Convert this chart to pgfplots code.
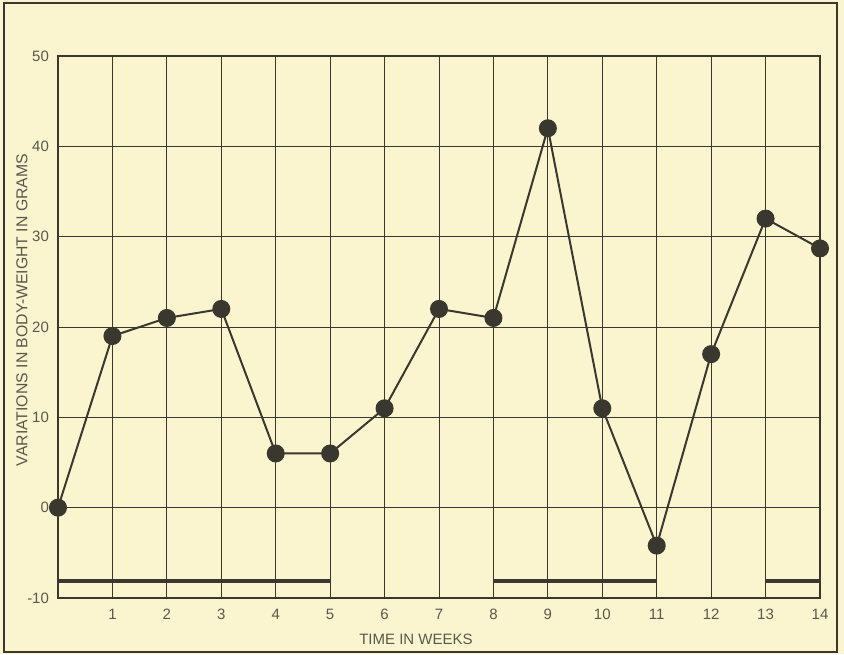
\documentclass[border=0pt]{standalone}
\usepackage{pgfplots}
\pgfplotsset{compat=1.18}
\usepackage{fontspec}
\setmainfont{Liberation Sans}
\definecolor{paper}{HTML}{FBF5CF}
\definecolor{ink}{HTML}{3A382E}
\definecolor{txt}{HTML}{5A584C}
\begin{document}
\begin{tikzpicture}
\fill[paper] (-29pt,-28pt) rectangle (393pt,299pt);
\draw[ink, line width=1pt] (-27pt,-27pt) rectangle (389.5pt,297.5pt);
\begin{axis}[
  at={(0,0)}, anchor=south west,
  scale only axis, width=381pt, height=271pt,
  xmin=0, xmax=14, ymin=-10, ymax=50,
  xtick={1,...,14}, ytick={-10,0,...,50},
  yticklabels={-10,0,10,20,30,40,50},
  grid=major,
  major grid style={ink, line width=0.5pt},
  axis line style={ink, line width=0.6pt},
  major tick length=0pt,
  tick label style={font=\fontsize{7.5}{9}\selectfont, text=txt},
  /pgf/number format/assume math mode=true,
  xticklabel style={yshift=-2pt},
  yticklabel style={xshift=-1pt},
  xlabel={TIME IN WEEKS},
  ylabel={VARIATIONS IN BODY-WEIGHT IN GRAMS},
  xlabel style={font=\fontsize{7.5}{9}\selectfont, text=txt, yshift=-0.5pt, xshift=-11.5pt},
  ylabel style={font=\fontsize{7.9}{9}\selectfont, text=txt, yshift=-7pt, xshift=8.5pt},
  clip=false,
]
\addplot[ink, line width=1pt, mark=*, mark size=4pt, mark options={fill=ink, draw=ink}]
coordinates {(0,0) (1,19) (2,21) (3,22) (4,6) (5,6) (6,11) (7,22) (8,21) (9,42) (10,11) (11,-4.2) (12,17) (13,32) (14,28.7)};
\addplot[ink, line width=2pt, no marks] coordinates {(0,-8.1) (5,-8.1)};
\addplot[ink, line width=2pt, no marks] coordinates {(8,-8.1) (11,-8.1)};
\addplot[ink, line width=2pt, no marks] coordinates {(13,-8.1) (14,-8.1)};
\end{axis}
\end{tikzpicture}
\end{document}
